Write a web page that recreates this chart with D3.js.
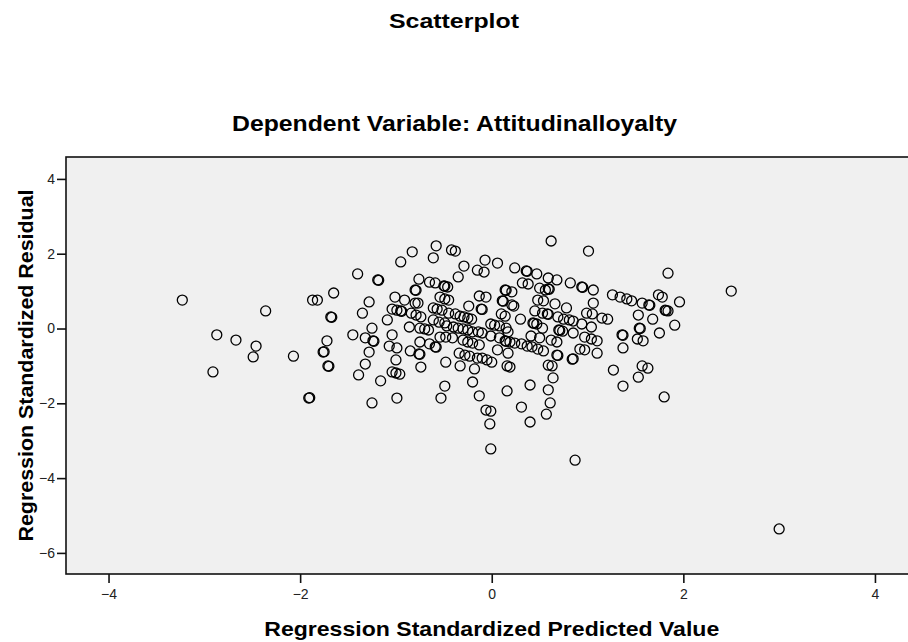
<!DOCTYPE html>
<html>
<head>
<meta charset="utf-8">
<script src="https://cdn.jsdelivr.net/npm/d3@7"></script>
<style>
  html, body { margin: 0; padding: 0; background: #ffffff; }
  svg { display: block; }
  text { font-family: "Liberation Sans", Arial, sans-serif; }
</style>
</head>
<body>
<div id="chart"></div>
<script>
const chartTitle = "Scatterplot";
const chartSubtitle = "Dependent Variable: Attitudinalloyalty";
const xAxisTitle = "Regression Standardized Predicted Value";
const yAxisTitle = "Regression Standardized Residual";
const xTickValues = [-4, -2, 0, 2, 4];
const yTickValues = [-6, -4, -2, 0, 2, 4];
const xDomain = [-4.444, 4.345];
const yDomain = [-6.564, 4.586];

// Regression standardized predicted values
const predicted = [
  -3.23, -2.87, -2.91, -2.67, -2.46, -2.49, -2.36, -2.07, -1.91, -1.90,
  -1.87, -1.82, -1.65, -1.68, -1.67, -1.72, -1.76, -1.75, -1.71, -1.70,
  -1.45, -1.40, -1.35, -1.32, -1.24, -1.23, -1.28, -1.25, -1.28, -1.32,
  -1.39, -1.16, -1.25, -1.19, -1.18, -1.09, -1.04, -0.99, -0.95, -0.94,
  -1.04, -1.07, -0.99, -1.00, -1.04, -1.00, -0.96, -0.99, -1.01, -0.95,
  -0.91, -0.83, -0.80, -0.79, -0.80, -0.77, -0.76, -0.86, -0.84, -0.79,
  -0.74, -0.75, -0.70, -0.66, -0.85, -0.76, -0.75, -0.75, -0.74, -0.65,
  -0.59, -0.61, -0.58, -0.50, -0.49, -0.46, -0.54, -0.49, -0.45, -0.61,
  -0.57, -0.52, -0.45, -0.38, -0.61, -0.55, -0.49, -0.65, -0.59, -0.58,
  -0.54, -0.48, -0.41, -0.48, -0.49, -0.53, -0.42, -0.38, -0.35, -0.29,
  -0.15, -0.08, -0.07, 0.06, -0.33, -0.34, -0.28, -0.23, -0.15, -0.10,
  -0.05, 0.00, -0.18, -0.20, -0.13, -0.06, -0.01, -0.02, -0.01, -0.24,
  -0.11, -0.10, -0.13, -0.06, -0.33, -0.29, -0.25, -0.21, -0.47, -0.40,
  -0.35, -0.30, -0.25, -0.20, -0.14, -0.10, -0.30, -0.25, -0.20, -0.13,
  -0.01, 0.03, 0.08, 0.15, -0.01, 0.08, 0.14, 0.15, 0.06, 0.17,
  0.11, 0.12, 0.21, 0.23, 0.10, 0.14, 0.14, 0.15, 0.21, 0.24,
  0.36, 0.37, 0.47, 0.59, 0.68, 0.62, 0.82, 0.94, 0.95, 1.06,
  0.32, 0.38, 0.50, 0.56, 0.59, 0.60, 0.48, 0.54, 0.66, 0.78,
  1.06, 0.30, 0.17, 0.43, 0.44, 0.47, 0.53, 0.45, 0.53, 0.58,
  0.59, 0.69, 0.75, 0.81, 0.85, 0.70, 0.71, 0.74, 0.85, 0.94,
  1.04, 0.99, 1.05, 1.15, 1.21, 0.19, 0.24, 0.31, 0.37, 0.42,
  0.48, 0.54, 0.41, 0.50, 0.62, 0.68, 0.97, 1.04, 1.10, 0.92,
  0.97, 1.10, 0.68, 0.69, 0.84, 0.85, 0.16, 0.19, 0.59, 0.63,
  0.64, 0.40, 0.59, 0.16, 0.61, 0.31, 0.57, 0.40, 0.87, 1.01,
  1.26, 1.34, 1.41, 1.46, 1.57, 1.64, 1.65, 1.74, 1.78, 1.96,
  1.81, 1.82, 1.84, 1.84, 1.53, 1.68, 1.91, 1.54, 1.55, 1.75,
  1.36, 1.37, 1.52, 1.58, 1.37, 1.27, 1.57, 1.63, 1.53, 1.37,
  1.80, 2.50, 3.00
];

// Regression standardized residuals
const residual = [
  0.76, -0.17, -1.16, -0.31, -0.47, -0.76, 0.47, -0.74, -1.86, -1.85,
  0.76, 0.76, 0.95, 0.31, 0.30, -0.33, -0.63, -0.62, -1.00, -1.01,
  -0.17, 1.46, 0.41, -0.25, -0.33, -0.34, 0.71, 0.01, -0.63, -0.95,
  -1.24, -1.40, -1.99, 1.30, 1.29, 0.23, 0.52, 0.49, 0.47, 0.46,
  -0.17, -0.47, -0.52, -0.84, -1.16, -1.19, -1.22, -1.86, 0.84, 1.78,
  0.76, 2.05, 1.03, 1.02, 0.68, 0.68, 1.32, 0.04, 0.41, 0.36,
  0.31, 0.01, -0.01, -0.04, -0.60, -0.68, -0.69, -0.36, -1.03, 1.24,
  1.22, 1.89, 2.21, 1.14, 1.13, 1.11, 0.84, 0.79, 0.76, 0.55,
  0.52, 0.49, 0.41, 0.39, 0.23, 0.17, 0.15, -0.41, -0.49, -0.50,
  -0.23, -0.23, -0.25, -0.90, -1.54, -1.86, 2.10, 2.07, 1.38, 1.67,
  1.56, 1.51, 1.83, 1.75, -1.00, -0.66, -0.71, -0.74, -0.79, -0.79,
  -0.84, -0.90, -1.08, -1.43, -1.80, -2.18, -2.21, -2.55, -3.22, 0.60,
  0.52, 0.51, 0.87, 0.84, 0.33, 0.31, 0.28, 0.25, 0.07, 0.04,
  0.01, -0.01, -0.04, -0.09, -0.09, -0.12, -0.31, -0.36, -0.39, -0.44,
  0.12, 0.09, 0.07, 0.01, -0.20, -0.25, -0.33, -0.34, -0.57, -0.66,
  0.74, 0.73, 0.63, 0.60, 0.39, 0.33, 1.03, 1.02, 0.98, 1.62,
  1.54, 1.53, 1.46, 1.35, 1.30, 2.34, 1.22, 1.11, 1.10, 1.03,
  1.22, 1.19, 1.08, 1.03, 1.06, 1.05, 0.76, 0.74, 0.66, 0.55,
  0.68, 0.25, -0.09, 0.15, 0.14, 0.12, 0.01, 0.47, 0.41, 0.39,
  0.38, 0.31, 0.25, 0.23, 0.20, -0.04, -0.05, -0.07, -0.12, 0.12,
  0.04, 0.41, 0.39, 0.28, 0.25, -0.36, -0.39, -0.41, -0.47, -0.49,
  -0.55, -0.60, -0.20, -0.25, -0.31, -0.36, -0.23, -0.28, -0.33, -0.55,
  -0.57, -0.66, -0.71, -0.72, -0.82, -0.81, -1.00, -1.03, -0.98, -1.00,
  -1.32, -1.51, -1.64, -1.67, -1.99, -2.10, -2.29, -2.50, -3.52, 2.07,
  0.90, 0.84, 0.79, 0.74, 0.68, 0.63, 0.62, 0.90, 0.84, 0.71,
  0.49, 0.48, 0.47, 1.48, 0.36, 0.25, 0.09, 0.01, 0.00, -0.12,
  -0.17, -0.18, -0.28, -0.33, -0.52, -1.11, -1.00, -1.06, -1.30, -1.54,
  -1.83, 1.00, -5.36
];

const W = 908, H = 642;
const plot = { left: 66, top: 157, right: 908, bottom: 574 };

const svg = d3.select("#chart").append("svg")
  .attr("width", W).attr("height", H)
  .attr("viewBox", `0 0 ${W} ${H}`);

const x = d3.scaleLinear().domain(xDomain).range([plot.left, plot.right]);
const y = d3.scaleLinear().domain(yDomain).range([plot.bottom, plot.top]);

function boldText(txt, size, len) {
  return svg.append("text")
    .attr("text-anchor", "middle")
    .attr("font-size", size).attr("font-weight", "bold").attr("fill", "#000")
    .attr("textLength", len).attr("lengthAdjust", "spacingAndGlyphs")
    .text(txt);
}

// Titles
boldText(chartTitle, 20, 130).attr("x", 454).attr("y", 28);
boldText(chartSubtitle, 22, 445).attr("x", 454.5).attr("y", 131);

// Plot background
svg.append("rect")
  .attr("x", plot.left).attr("y", plot.top)
  .attr("width", plot.right - plot.left + 10)
  .attr("height", plot.bottom - plot.top)
  .attr("fill", "#f0f0f0")
  .attr("stroke", "#111").attr("stroke-width", 1.6);

// Axes
const xAxis = d3.axisBottom(x).tickValues(xTickValues).tickSize(9).tickSizeOuter(0)
  .tickFormat(d3.format("d"));
const yAxis = d3.axisLeft(y).tickValues(yTickValues).tickSize(9).tickSizeOuter(0)
  .tickFormat(d3.format("d"));

const gx = svg.append("g").attr("transform", `translate(0,${plot.bottom})`).call(xAxis);
const gy = svg.append("g").attr("transform", `translate(${plot.left},0)`).call(yAxis);

[gx, gy].forEach(g => {
  g.select(".domain").remove();
  g.selectAll(".tick line").attr("stroke", "#111").attr("stroke-width", 1.6);
  g.selectAll(".tick text")
    .attr("fill", "#222")
    .attr("font-size", 14)
    .attr("font-family", "\"Liberation Sans\", Arial, sans-serif");
});
gx.selectAll(".tick text").attr("dy", "0.9em").attr("y", 12);
gy.selectAll(".tick text").attr("x", -11);

// Axis titles
boldText(xAxisTitle, 21, 455).attr("x", x(0)).attr("y", 636);
boldText(yAxisTitle, 21, 352)
  .attr("transform", `translate(33,${(plot.top + plot.bottom) / 2}) rotate(-90)`);

// Points
const points = predicted.map((p, i) => ({ p, r: residual[i] }));
svg.append("g")
  .selectAll("circle")
  .data(points)
  .join("circle")
  .attr("cx", d => x(d.p))
  .attr("cy", d => y(d.r))
  .attr("r", 5)
  .attr("fill", "none")
  .attr("stroke", "#000")
  .attr("stroke-width", 1.3);
</script>
</body>
</html>
